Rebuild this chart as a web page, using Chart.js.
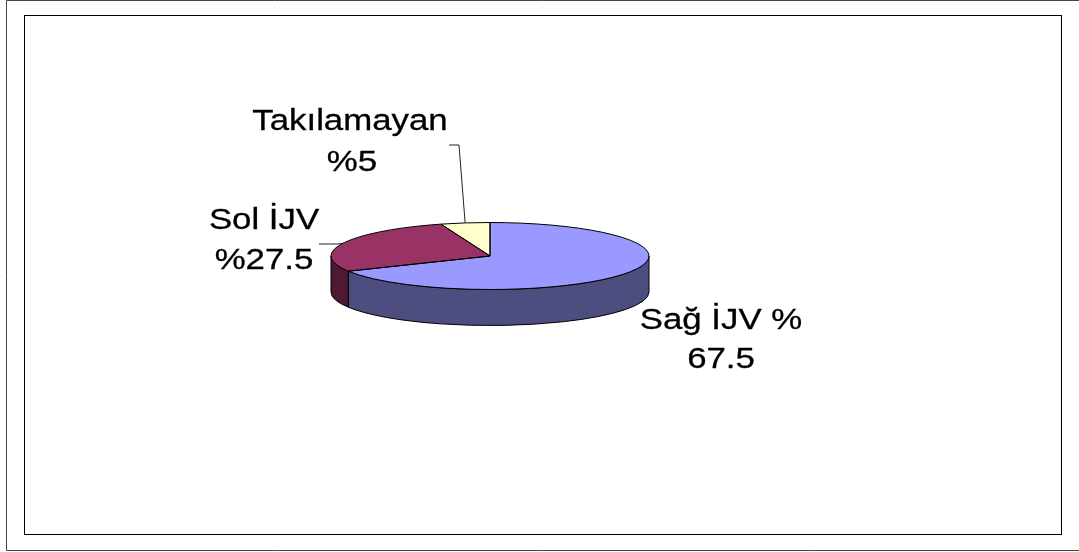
<!DOCTYPE html>
<html>
<head>
<meta charset="utf-8">
<title>IJV pie</title>
<script src="https://cdn.jsdelivr.net/npm/chart.js@4/dist/chart.umd.min.js"></script>
<style>
    html, body { margin: 0; padding: 0; background: #fff; }
    canvas { display: block; }
</style>
</head>
<body>
<canvas id="pieChart" width="1079" height="552"></canvas>
<script>
// Chart data
const categories = ['Sağ İJV', 'Sol İJV', 'Takılamayan'];
const seriesValues = [67.5, 27.5, 5];
const labelLines = [['Sağ İJV %', '67.5'], ['Sol İJV', '%27.5'], ['Takılamayan', '%5']];
const topColors = ['#9999FF', '#993366', '#FFFFCC'];
const sideColors = ['#4D4D80', '#4D1933', '#80801A'];

// Flattens the round pie and adds the 3D wall, frame, labels and leader lines
const flatPiePlugin = {
    id: 'flatPie',
    squash(ctx, arc, k) {
        ctx.translate(arc.x, arc.y);
        ctx.scale(1, k);
        ctx.translate(-arc.x, -arc.y);
    },
    beforeDraw(chart, args, opts) {
        const ctx = chart.ctx;
        ctx.save();
        ctx.lineWidth = 1;
        ctx.strokeStyle = '#444';
        ctx.beginPath();
        ctx.moveTo(1079, 0.5);
        ctx.lineTo(6.5, 0.5);
        ctx.lineTo(6.5, 550.5);
        ctx.lineTo(1079, 550.5);
        ctx.stroke();
        ctx.strokeStyle = '#000';
        ctx.strokeRect(24.5, 15.5, 1037, 519);
        ctx.restore();
    },
    beforeDatasetsDraw(chart, args, opts) {
        const ctx = chart.ctx;
        const arcs = chart.getDatasetMeta(0).data;
        // side wall, only the part of each slice that faces the viewer
        arcs.forEach((arc, i) => {
            const from = Math.max(arc.startAngle, 0);
            const to = Math.min(arc.endAngle, Math.PI);
            if (to <= from) return;
            const ry = arc.outerRadius * opts.squash;
            ctx.save();
            ctx.beginPath();
            ctx.ellipse(arc.x, arc.y, arc.outerRadius, ry, 0, from, to);
            ctx.ellipse(arc.x, arc.y + opts.depth, arc.outerRadius, ry, 0, to, from, true);
            ctx.closePath();
            ctx.fillStyle = sideColors[i];
            ctx.fill();
            ctx.strokeStyle = '#000';
            ctx.lineWidth = 1;
            ctx.stroke();
            ctx.restore();
        });
        ctx.save();
        this.squash(ctx, arcs[0], opts.squash);
    },
    afterDatasetsDraw(chart, args, opts) {
        const ctx = chart.ctx;
        ctx.restore();
        const arcs = chart.getDatasetMeta(0).data;

        // outlines are stroked after the transform so the line keeps its width
        arcs.forEach(arc => {
            ctx.save();
            this.squash(ctx, arc, opts.squash);
            ctx.beginPath();
            ctx.moveTo(arc.x, arc.y);
            ctx.arc(arc.x, arc.y, arc.outerRadius, arc.startAngle, arc.endAngle);
            ctx.closePath();
            ctx.restore();
            ctx.strokeStyle = '#000';
            ctx.lineWidth = 1;
            ctx.stroke();
        });

        // leader lines start at the middle of the slice edge
        ctx.save();
        ctx.strokeStyle = '#222';
        ctx.lineWidth = 1;
        opts.leaders.forEach(leader => {
            const arc = arcs[leader.slice];
            const mid = (arc.startAngle + arc.endAngle) / 2;
            const ex = arc.x + arc.outerRadius * Math.cos(mid);
            const ey = arc.y + arc.outerRadius * opts.squash * Math.sin(mid);
            ctx.beginPath();
            ctx.moveTo(ex, ey);
            ctx.lineTo(leader.elbow[0], leader.elbow[1]);
            ctx.lineTo(leader.end[0], leader.end[1]);
            ctx.stroke();
        });
        ctx.restore();

        // labels, the reference text is stretched sideways
        ctx.save();
        ctx.fillStyle = '#000';
        ctx.strokeStyle = '#000';
        ctx.lineWidth = 0.3;
        ctx.font = opts.font;
        ctx.textAlign = 'center';
        ctx.textBaseline = 'alphabetic';
        labelLines.forEach((lines, i) => {
            lines.forEach((line, n) => {
                const pos = opts.labelPos[i][n];
                ctx.save();
                ctx.translate(pos[0], pos[1]);
                ctx.scale(opts.textStretch, 1);
                ctx.fillText(line, 0, 0);
                ctx.strokeText(line, 0, 0);
                ctx.restore();
            });
        });
        ctx.restore();
    }
};

new Chart(document.getElementById('pieChart').getContext('2d'), {
    type: 'pie',
    data: {
        labels: categories,
        datasets: [{
            data: seriesValues,
            backgroundColor: topColors,
            borderWidth: 0
        }]
    },
    options: {
        responsive: false,
        animation: false,
        layout: {
            padding: { left: 331, right: 430, top: 97, bottom: 137 }
        },
        plugins: {
            legend: { display: false },
            tooltip: { enabled: false },
            flatPie: {
                squash: 33.5 / 159,
                depth: 36,
                font: '30px "Liberation Sans"',
                textStretch: 1.16,
                labelPos: [
                    [[721, 329], [721, 368]],
                    [[264, 229], [264, 269]],
                    [[350, 130], [352, 171]]
                ],
                leaders: [
                    { slice: 1, elbow: [338, 244], end: [319, 244] },
                    { slice: 2, elbow: [459, 145], end: [449, 145] }
                ]
            }
        }
    },
    plugins: [flatPiePlugin]
});
</script>
</body>
</html>
